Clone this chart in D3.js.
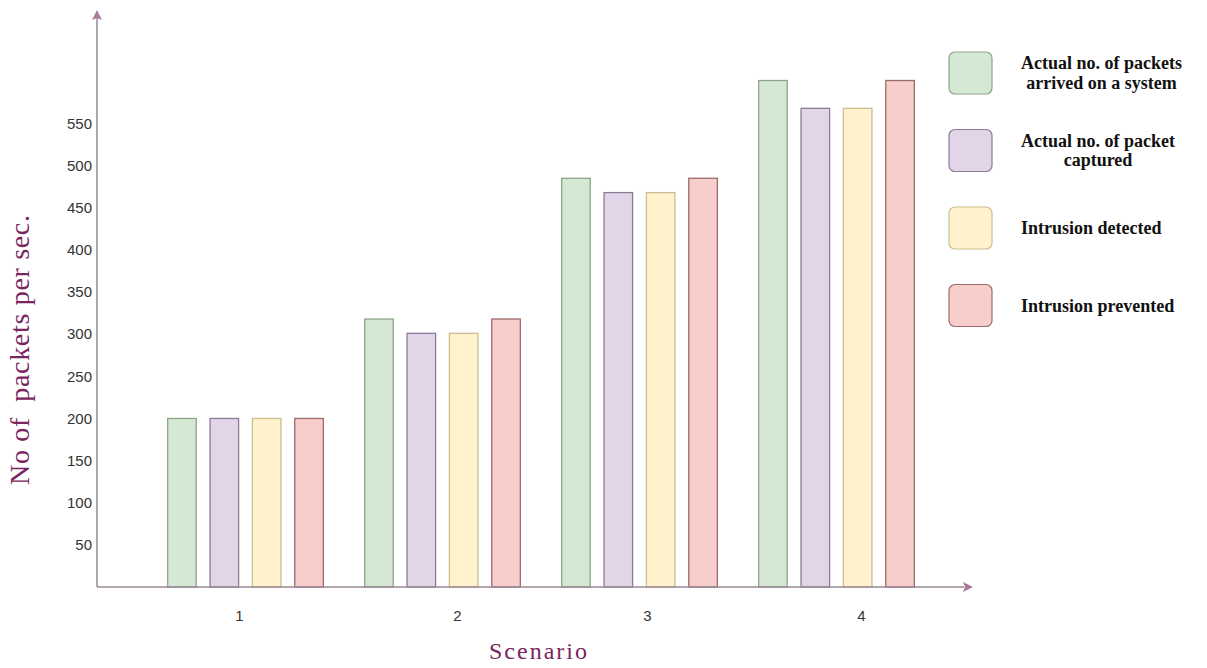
<!DOCTYPE html>
<html>
<head>
<meta charset="utf-8">
<script src="https://cdn.jsdelivr.net/npm/d3@7"></script>
<style>
  html, body { margin: 0; padding: 0; background: #ffffff; }
  svg { display: block; }
</style>
</head>
<body>
<svg id="chart" width="1207" height="668"></svg>
<script>
// ---- data ----
const scenarios = ["1", "2", "3", "4"];
const seriesNames = [
  "Actual no. of packets arrived on a system",
  "Actual no. of packet captured",
  "Intrusion detected",
  "Intrusion prevented"
];
const arrivedValues   = [200, 318, 485, 601];
const capturedValues  = [200, 301, 468, 568];
const detectedValues  = [200, 301, 468, 568];
const preventedValues = [200, 318, 485, 601];
const yTickValues = [50, 100, 150, 200, 250, 300, 350, 400, 450, 500, 550];
const legendLines = [
  ["Actual no. of packets", "arrived on a system"],
  ["Actual no. of packet", "captured"],
  ["Intrusion detected"],
  ["Intrusion prevented"]
];

// ---- styles ----
const fills   = ["#d5e8d4", "#e1d5e7", "#fff2cc", "#f8cecc"];
const strokes = ["#8da58a", "#8c7b98", "#cbbd8f", "#9c6b6b"];
const axisColor = "#9a8896";
const arrowColor = "#a8799c";
const titleColor = "#7a2560";
const tickLabelShift = [-6, 15, 8, 25]; // hand-placed label offsets in the original

const series = [arrivedValues, capturedValues, detectedValues, preventedValues];
const rows = scenarios.map((s, i) => ({
  scenario: s,
  values: series.map((v, k) => ({ key: k, value: v[i] }))
}));

const svg = d3.select("#chart");

const x0 = 97, baseY = 587;
const x = d3.scaleBand().domain(scenarios).range([147, 935]).paddingInner(0.21).paddingOuter(0.105);
const xi = d3.scaleBand().domain(d3.range(seriesNames.length)).range([0, x.bandwidth()]).paddingInner(0.326).paddingOuter(0);
const y = d3.scaleLinear().domain([0, 550]).range([baseY, 123.5]);

// bars
const g = svg.append("g");
g.selectAll("g.grp").data(rows).join("g")
  .attr("class", "grp")
  .attr("transform", d => `translate(${x(d.scenario)},0)`)
  .selectAll("rect").data(d => d.values).join("rect")
  .attr("x", d => xi(d.key))
  .attr("width", xi.bandwidth())
  .attr("y", d => y(d.value))
  .attr("height", d => baseY - y(d.value))
  .attr("fill", d => fills[d.key])
  .attr("stroke", d => strokes[d.key])
  .attr("stroke-width", 1.3);

// y axis (labels only)
const yAxis = d3.axisLeft(y).tickValues(yTickValues).tickSize(0).tickPadding(5);
const ya = svg.append("g").attr("transform", `translate(${x0},0)`).call(yAxis);
ya.select(".domain").remove();
ya.selectAll("text").attr("font-family", "Liberation Sans, Arial, sans-serif").attr("font-size", 15).attr("fill", "#333");

// x axis labels
const xAxis = d3.axisBottom(x).tickSize(0).tickPadding(23);
const xa = svg.append("g").attr("transform", `translate(0,${baseY})`).call(xAxis);
xa.select(".domain").remove();
xa.selectAll("text")
  .attr("dx", (d, i) => tickLabelShift[i])
  .attr("font-family", "Liberation Sans, Arial, sans-serif").attr("font-size", 15).attr("fill", "#333");

// axis lines with arrows
svg.append("line").attr("x1", x0).attr("x2", x0).attr("y1", baseY).attr("y2", 18)
  .attr("stroke", axisColor).attr("stroke-width", 1.5);
svg.append("line").attr("x1", x0).attr("x2", 964).attr("y1", baseY).attr("y2", baseY)
  .attr("stroke", axisColor).attr("stroke-width", 1.5);
svg.append("path").attr("d", `M${x0},10 L${x0 + 5},20 L${x0},18 L${x0 - 5},20 Z`).attr("fill", arrowColor);
svg.append("path").attr("d", `M973,${baseY} L963,${baseY + 5} L965,${baseY} L963,${baseY - 5} Z`).attr("fill", arrowColor);

// axis titles
svg.append("text")
  .attr("transform", `translate(29,350) rotate(-90)`)
  .attr("text-anchor", "middle")
  .attr("font-family", "Liberation Serif, 'Times New Roman', serif")
  .attr("font-size", 28)
  .attr("fill", titleColor)
  .attr("textLength", 270)
  .attr("lengthAdjust", "spacing")
  .attr("xml:space", "preserve")
  .text("No of  packets per sec.");

svg.append("text")
  .attr("x", 538).attr("y", 659)
  .attr("text-anchor", "middle")
  .attr("font-family", "Liberation Serif, 'Times New Roman', serif")
  .attr("font-size", 24)
  .attr("fill", titleColor)
  .attr("textLength", 98)
  .attr("lengthAdjust", "spacing")
  .text("Scenario");

// legend
const lg = svg.append("g").selectAll("g").data(seriesNames).join("g")
  .attr("transform", (d, i) => `translate(949,${52 + i * 77.5})`);
lg.append("rect").attr("width", 43).attr("height", 42).attr("rx", 6)
  .attr("fill", (d, i) => fills[i]).attr("stroke", (d, i) => strokes[i]).attr("stroke-width", 1.2);
lg.each(function(d, i) {
  const lines = legendLines[i];
  const grp = d3.select(this);
  const texts = lines.map((ln, j) => grp.append("text")
    .attr("text-anchor", "middle")
    .attr("font-family", "Liberation Serif, 'Times New Roman', serif")
    .attr("font-weight", "bold")
    .attr("font-size", 18)
    .attr("fill", "#111")
    .attr("y", 21 + 6 + (j - (lines.length - 1) / 2) * 19.5)
    .text(ln));
  const maxW = d3.max(texts, t => t.node().getComputedTextLength());
  texts.forEach(t => t.attr("x", 72 + maxW / 2));
});
</script>
</body>
</html>
